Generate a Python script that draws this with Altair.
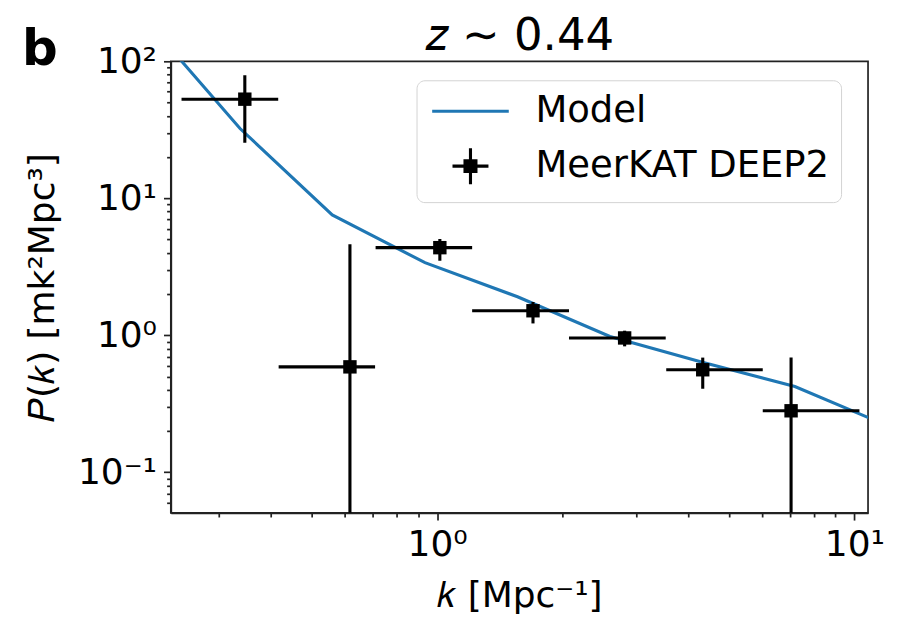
import altair as alt
import pandas as pd

# ---------------- data ----------------
model_k = [0.2025, 0.337, 0.5605, 0.935, 1.558, 2.595, 4.32, 7.2, 12.0]
model_P = [193.0, 32.3, 7.55, 3.39, 1.91, 0.98, 0.635, 0.423, 0.219]

data_k = [0.346, 0.618, 1.015, 1.697, 2.814, 4.33, 7.05]
data_P = [52.9, 0.588, 4.36, 1.51, 0.956, 0.56, 0.281]
data_P_lo = [25.4, 0.01, 3.50, 1.22, 0.83, 0.407, 0.01]
data_P_hi = [79.0, 4.61, 5.05, 1.75, 1.08, 0.687, 0.687]
data_k_lo = [0.244, 0.417, 0.712, 1.213, 2.07, 3.54, 6.03]
data_k_hi = [0.416, 0.710, 1.213, 2.07, 3.53, 6.03, 10.28]

series_names = ["Model", "MeerKAT DEEP2"]
series_colors = ["#1f77b4", "#000000"]

x_major = [1, 10]
x_major_labels = ["10⁰", "10¹"]
x_minor = [0.3, 0.4, 0.5, 0.6, 0.7, 0.8, 0.9, 2, 3, 4, 5, 6, 7, 8, 9]
y_major = [0.1, 1, 10, 100]
y_major_labels = ["10⁻¹", "10⁰", "10¹", "10²"]
y_minor = [0.06, 0.07, 0.08, 0.09,
           0.2, 0.3, 0.4, 0.5, 0.6, 0.7, 0.8, 0.9,
           2, 3, 4, 5, 6, 7, 8, 9,
           20, 30, 40, 50, 60, 70, 80, 90]

title_text = "𝑧 ∼ 0.44"
x_title = "𝑘 [Mpc⁻¹]"
y_title = "𝑃(𝑘) [mk²Mpc³]"
panel_letter = "b"

# ---------------- frames ----------------
model_df = pd.DataFrame({"k": model_k, "P": model_P})
data_df = pd.DataFrame({"k": data_k, "P": data_P, "Plo": data_P_lo, "Phi": data_P_hi,
                        "klo": data_k_lo, "khi": data_k_hi})
legend_df = pd.DataFrame({"series": series_names, "k": [1, 1], "P": [1, 1]})
note_df = pd.DataFrame({"t": [0]})


def label_expr(vals, labels):
    expr = "''"
    for v, l in zip(reversed(vals), reversed(labels)):
        expr = f"datum.value == {v} ? '{l}' : ({expr})"
    return expr


FONT = "DejaVu Sans"
FRAME = "#222222"
W, H = 698, 452

xscale = alt.Scale(type="log", domain=[0.23, 10.78], nice=False)
yscale = alt.Scale(type="log", domain=[0.0506, 100], nice=False)

xaxis = alt.Axis(
    values=x_major + x_minor,
    labelExpr=label_expr(x_major, x_major_labels),
    tickSize={"condition": {"test": f"indexof({x_major}, datum.value) >= 0", "value": 7.3}, "value": 4.2},
    labelOverlap=False, labelFlush=False, labelPadding=7,
    labelFontSize=36, labelFont=FONT, labelColor="black",
    title=x_title, titleFontSize=36, titleFont=FONT, titleFontWeight="normal",
    titlePadding=17, titleColor="black", grid=False,
)
yaxis = alt.Axis(
    values=y_major + y_minor,
    labelExpr=label_expr(y_major, y_major_labels),
    tickSize={"condition": {"test": f"indexof({y_major}, datum.value) >= 0", "value": 7.3}, "value": 4.2},
    labelOverlap=False, labelFlush=False, labelPadding=7,
    labelFontSize=36, labelFont=FONT, labelColor="black",
    title=y_title, titleFontSize=36, titleFont=FONT, titleFontWeight="normal",
    titlePadding=16, titleColor="black", grid=False,
)

X = alt.X("k:Q", scale=xscale, axis=xaxis)
Y = alt.Y("P:Q", scale=yscale, axis=yaxis)

model_line = alt.Chart(model_df).mark_line(color="#1f77b4", strokeWidth=3.1, clip=True).encode(x=X, y=Y)

xerr = alt.Chart(data_df).mark_rule(color="black", strokeWidth=3.1, clip=True).encode(
    x=alt.X("klo:Q", scale=xscale, axis=xaxis), x2="khi:Q", y=Y)
yerr = alt.Chart(data_df).mark_rule(color="black", strokeWidth=3.1, clip=True).encode(
    x=X, y=alt.Y("Plo:Q", scale=yscale, axis=yaxis), y2="Phi:Q")
squares = alt.Chart(data_df).mark_point(shape="square", filled=True, size=180, color="black",
                                        opacity=1).encode(x=X, y=Y)

model_sym = "M-2.13,0L2.13,0"
deep_sym = ("M-1,0L1,0M0,-1L0,1"
            "M-0.39,-0.3L0.39,-0.3M-0.39,-0.15L0.39,-0.15M-0.39,0L0.39,0"
            "M-0.39,0.15L0.39,0.15M-0.39,0.3L0.39,0.3")

legend = alt.Legend(
    title=None, orient="none", legendX=246, legendY=19,
    padding=11, strokeColor="#d3d3d3", fillColor="white", cornerRadius=8,
    labelFontSize=37, labelFont=FONT, labelColor="black", labelLimit=600,
    symbolSize=1296, symbolStrokeWidth=3.1, symbolOpacity=1,
    symbolOffset=23, labelOffset=45, rowPadding=12,
)
legend_layer = alt.Chart(legend_df).mark_point(opacity=0, filled=False, strokeWidth=3.1, size=1296).encode(
    x=X, y=Y,
    color=alt.Color("series:N", scale=alt.Scale(domain=series_names, range=series_colors), legend=legend),
    shape=alt.Shape("series:N", scale=alt.Scale(domain=series_names, range=[model_sym, deep_sym]), legend=legend),
)

letter = alt.Chart(note_df).mark_text(
    text=panel_letter, font=FONT, fontSize=50, fontWeight="bold", align="left",
    baseline="alphabetic", color="black"
).encode(x=alt.value(-149), y=alt.value(4))

title = alt.Chart(note_df).mark_text(
    text=title_text, font=FONT, fontSize=45, fontWeight="normal", align="center",
    baseline="alphabetic", color="black"
).encode(x=alt.value(W / 2), y=alt.value(-11))

chart = alt.layer(model_line, xerr, yerr, squares, legend_layer, letter, title).properties(
    width=W, height=H,
    padding={"left": 163, "top": 53, "right": 26, "bottom": 118},
    autosize="none",
    background="white",
).configure_view(stroke=FRAME, strokeWidth=1.7).configure_axis(
    grid=False, domainColor=FRAME, domainWidth=1.7, tickColor=FRAME, tickWidth=1.7,
    labelFont=FONT, labelFontSize=36, labelColor="black",
)

chart.save("out.html", embed_options={"renderer": "svg", "actions": False})
